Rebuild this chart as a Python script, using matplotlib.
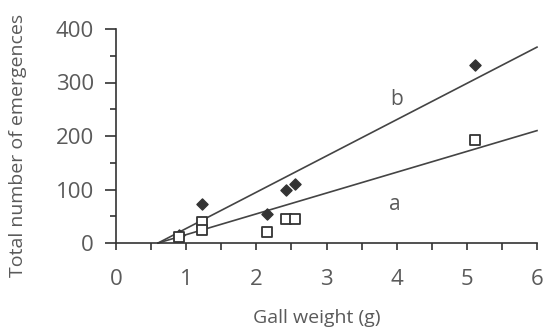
import matplotlib
matplotlib.use("Agg")
import matplotlib.pyplot as plt
import numpy as np
from matplotlib.ticker import MultipleLocator

# Data
x_b = [0.9, 1.22, 2.15, 2.42, 2.55, 5.12]
y_b = [15, 72, 55, 100, 110, 333]
x_a = [0.9, 1.22, 1.22, 2.15, 2.42, 2.55, 5.12]
y_a = [12, 40, 25, 20, 45, 45, 193]
# fitted lines: (start x, end x, slope), zero at start x
line_b = (0.6, 6.0, 67.8)
line_a = (0.6, 6.0, 38.9)
xticks = [0, 1, 2, 3, 4, 5, 6]
xticklabels = ["0", "1", "2", "3", "4", "5", "6"]
yticks = [0, 100, 200, 300, 400]

grey = "#5a5a5a"
dark = "#333333"
plt.rcParams['font.family'] = ['Open Sans', 'DejaVu Sans']

W, H = 544, 331
fig = plt.figure(figsize=(W / 100, H / 100), dpi=100)
x0p, x1p, y0p, y1p = 116, 537, 243, 29
ax = fig.add_axes([x0p / W, 1 - y0p / H, (x1p - x0p) / W, (y0p - y1p) / H])

for (xs0, xs1, s) in (line_b, line_a):
    xs = np.array([xs0, xs1])
    ax.plot(xs, s * (xs - xs0), color="#444444", lw=1.2, zorder=2, clip_on=False)

ax.scatter(x_b, y_b, marker="D", s=32, color=dark, zorder=3)
ax.scatter(x_a, y_a, marker="s", s=50, facecolor="white", edgecolor=dark, linewidth=1.3, zorder=4)

ax.text(4.0, 268, "b", fontsize=15, color=grey, ha="center", va="center")
ax.text(3.98, 72, "a", fontsize=15, color=grey, ha="center", va="center")

ax.set_xlim(0, 6)
ax.set_ylim(0, 400)
ax.set_xticks(xticks)
ax.set_xticklabels(xticklabels)
ax.set_yticks(yticks)
ax.xaxis.set_minor_locator(MultipleLocator(0.5))
ax.yaxis.set_minor_locator(MultipleLocator(50))
ax.spines['top'].set_visible(False)
ax.spines['right'].set_visible(False)
for sp in ('left', 'bottom'):
    ax.spines[sp].set_color(dark)
    ax.spines[sp].set_linewidth(1.2)
ax.tick_params(axis='y', which='major', length=8, width=1.2, color=dark, labelsize=16, labelcolor=grey, pad=8)
ax.tick_params(axis='y', which='minor', length=4, width=1.2, color=dark)
ax.tick_params(axis='x', which='both', length=5, width=1.2, color=dark, labelsize=16, labelcolor=grey, pad=14)

ax.set_xlabel("Gall weight (g)", fontsize=14, color=grey)
ax.xaxis.set_label_coords((317 - x0p) / (x1p - x0p), -(318 - y0p) / (y0p - y1p))
ax.xaxis.label.set_va("center")
ax.set_ylabel("Total number of emergences", fontsize=14, color=grey)
ax.yaxis.set_label_coords(-(x0p - 18) / (x1p - x0p), (y0p - 145) / (y0p - y1p))
ax.yaxis.label.set_va("center")

fig.savefig("out.png", dpi=100, facecolor="white")
